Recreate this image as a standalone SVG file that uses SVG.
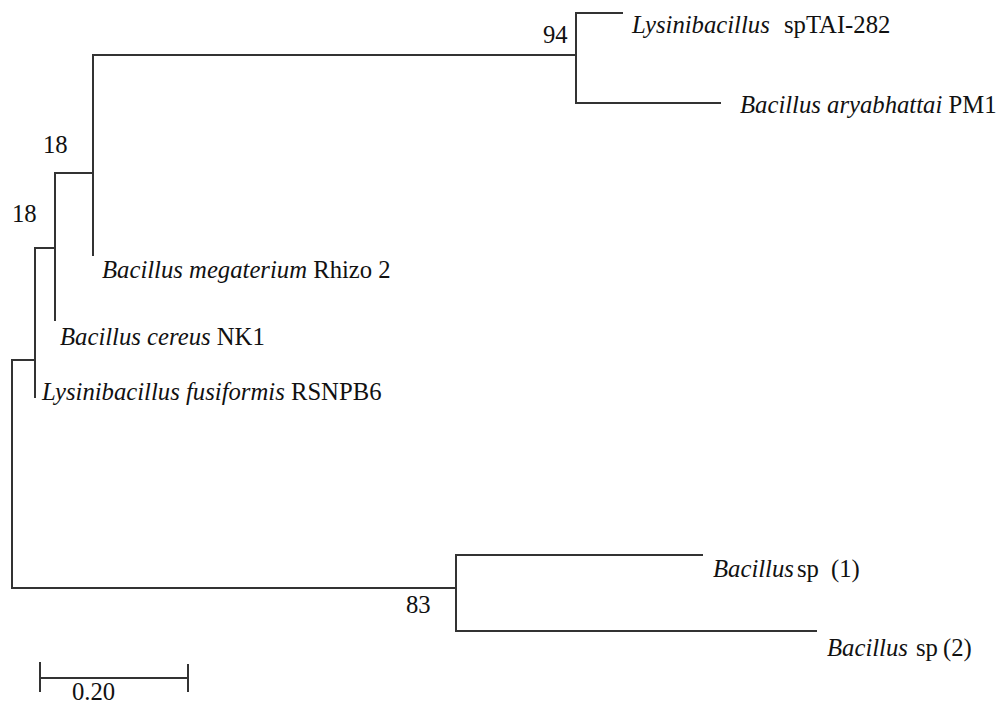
<svg xmlns="http://www.w3.org/2000/svg" width="1005" height="706" viewBox="0 0 1005 706">
<style>
.br{stroke:#333;stroke-width:2;fill:none;stroke-linecap:square}
text{font-family:"Liberation Serif","Times New Roman",serif;font-size:24.7px;fill:#111}
.i{font-style:italic}
</style>
<rect width="1005" height="706" fill="#fff"/>
<g id="connectors">
<path class="br" d="M12,360 H35 M12,360 V588 M35,248 V397 M35,248 H55 M55,173 V320 M55,173 H93 M93,55 V255 M93,55 H576 M576,13 V103 M576,13 H622 M576,103 H720"/>
<path class="br" d="M12,588 H226 M228,588 H456 M456,555 V631 M456,555 H702 M456,631 H816"/>
</g>
<g id="node-lys-tai"><text x="632" y="33"><tspan class="i">Lysinibacillus</tspan><tspan x="784">spTAI-282</tspan></text></g>
<g id="node-aryabhattai"><text x="740" y="113"><tspan class="i">Bacillus aryabhattai</tspan> PM1</text></g>
<g id="node-megaterium"><text x="102" y="278"><tspan class="i">Bacillus megaterium</tspan> Rhizo 2</text></g>
<g id="node-cereus"><text x="60" y="345"><tspan class="i">Bacillus cereus</tspan> NK1</text></g>
<g id="node-fusiformis"><text x="42" y="400"><tspan class="i">Lysinibacillus fusiformis</tspan> RSNPB6</text></g>
<g id="node-sp1"><text x="713" y="577"><tspan class="i">Bacillus</tspan><tspan x="797">sp</tspan><tspan x="831">(1)</tspan></text></g>
<g id="node-sp2"><text x="827" y="656"><tspan class="i">Bacillus</tspan><tspan x="916">sp</tspan><tspan x="943">(2)</tspan></text></g>
<g id="bootstrap">
<text x="543" y="43">94</text>
<text x="43" y="153">18</text>
<text x="12" y="222">18</text>
<text x="406" y="613">83</text>
</g>
<g id="scale-bar">
<path class="br" d="M40,678 H188 M40,663 V691 M188,665 V691"/>
<text x="72" y="700">0.20</text>
</g>
</svg>
